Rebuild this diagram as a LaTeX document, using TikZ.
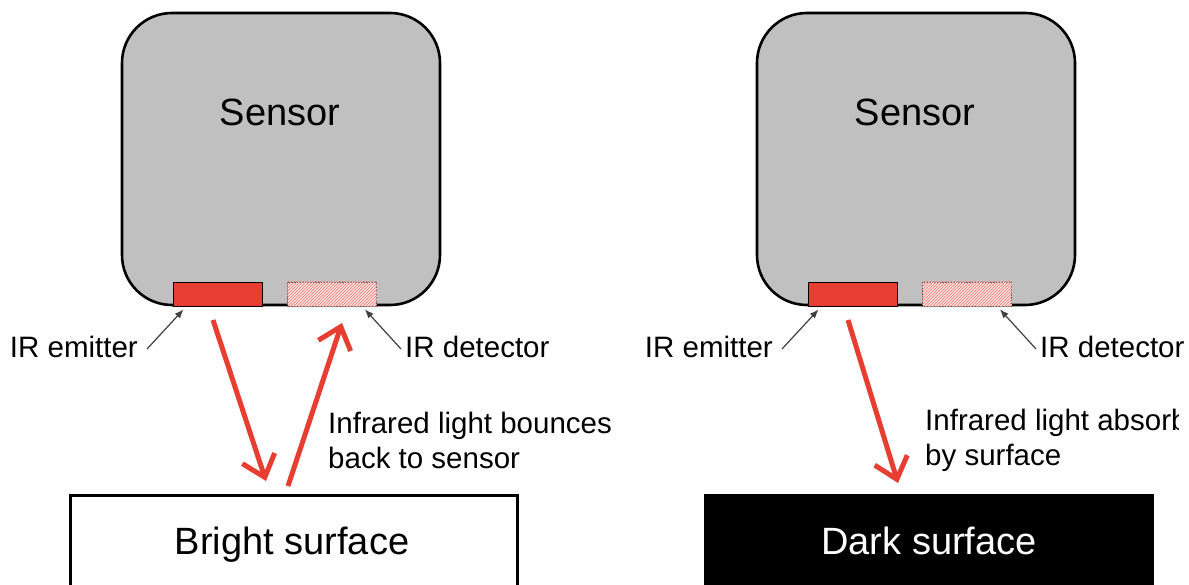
\documentclass[tikz,border=0pt]{standalone}
\usepackage{fontspec}
\setmainfont{Liberation Sans}
\usetikzlibrary{patterns,arrows.meta}
\definecolor{sgray}{RGB}{192,192,192}
\definecolor{ired}{RGB}{232,62,50}
\begin{document}
\begin{tikzpicture}[x=1pt,y=-1pt,
  sensorbox/.style={draw=black,line width=2.6pt,fill=sgray,rounded corners=50pt,minimum width=318pt,minimum height=292pt,inner sep=0pt},
  emitbox/.style={draw=black,line width=0.8pt,fill=ired,minimum width=89pt,minimum height=24pt,inner sep=0pt},
  detbox/.style={draw=black!60,densely dotted,line width=0.6pt,fill=ired!12,pattern color=ired!75,minimum width=89pt,minimum height=24pt,inner sep=0pt},
  big/.style={font=\fontsize{38}{44}\selectfont,inner sep=0pt},
  lbl/.style={font=\fontsize{29.5}{35}\selectfont,inner sep=0pt},
  ann/.style={draw=black!75,line width=1.2pt,-{Latex[length=9pt,width=7pt]}},
  ray/.style={draw=ired,line width=5pt,-{Straight Barb[length=20pt,width=34pt]}},
  surf/.style={draw=black,line width=3pt,minimum width=447pt,minimum height=100pt,inner sep=0pt}]
\useasboundingbox (0,0) rectangle (1189,585);
% ---------- left ----------
\node[sensorbox] (s1) at (281,159) {};
\node[big] (s1t) at (280,112) {Sensor};
\node[emitbox] (e1) at (217.5,294) {};
\node[detbox] (d1) at (332,294) {};
\path[pattern=north east lines,pattern color=ired!75] (d1.south west) rectangle (d1.north east);
\node[lbl,anchor=east] (le1) at (138,347) {IR emitter};
\node[lbl,anchor=west] (ld1) at (405,347) {IR detector};
\coordinate (e1t) at ([xshift=11pt,yshift=-3pt]e1.south west);
\coordinate (d1t) at ([xshift=-12pt,yshift=-3pt]d1.south east);
\draw[ann] ([xshift=9pt,yshift=-2pt]le1.east) -- (e1t);
\draw[ann] ([xshift=-4pt,yshift=-2pt]ld1.west) -- (d1t);
\coordinate (r1a) at (213,320);
\coordinate (r1b) at (266,481);
\coordinate (r2a) at (288,486);
\coordinate (r2b) at (342,323);
\draw[ray] (r1a) -- (r1b);
\draw[ray] (r2a) -- (r2b);
\node[lbl,anchor=west,align=left] (t1) at (328,440) {Infrared light bounces\\back to sensor};
\node[surf,fill=white] (b1) at (293.5,545) {};
\node[big,anchor=base] (b1t) at (292,554) {Bright surface};
% ---------- right ----------
\node[sensorbox] (s2) at (916,159) {};
\node[big] (s2t) at (915,112) {Sensor};
\node[emitbox] (e2) at (852.5,294) {};
\node[detbox] (d2) at (967,294) {};
\path[pattern=north east lines,pattern color=ired!75] (d2.south west) rectangle (d2.north east);
\node[lbl,anchor=east] (le2) at (773,347) {IR emitter};
\node[lbl,anchor=west] (ld2) at (1040,347) {IR detector};
\coordinate (e2t) at ([xshift=11pt,yshift=-3pt]e2.south west);
\coordinate (d2t) at ([xshift=-12pt,yshift=-3pt]d2.south east);
\draw[ann] ([xshift=9pt,yshift=-2pt]le2.east) -- (e2t);
\draw[ann] ([xshift=-4pt,yshift=-2pt]ld2.west) -- (d2t);
\coordinate (r3a) at (848,320);
\coordinate (r3b) at (898,483);
\draw[ray] (r3a) -- (r3b);
\begin{scope}
\clip (900,380) rectangle (1178,480);
\node[lbl,anchor=west,align=left] (t2) at (925,440) {Infrared light absorbed\\by surface};
\end{scope}
\node[surf,fill=black] (b2) at (929,545) {};
\node[big,text=white,anchor=base] (b2t) at (929,554) {Dark surface};
\end{tikzpicture}
\end{document}
